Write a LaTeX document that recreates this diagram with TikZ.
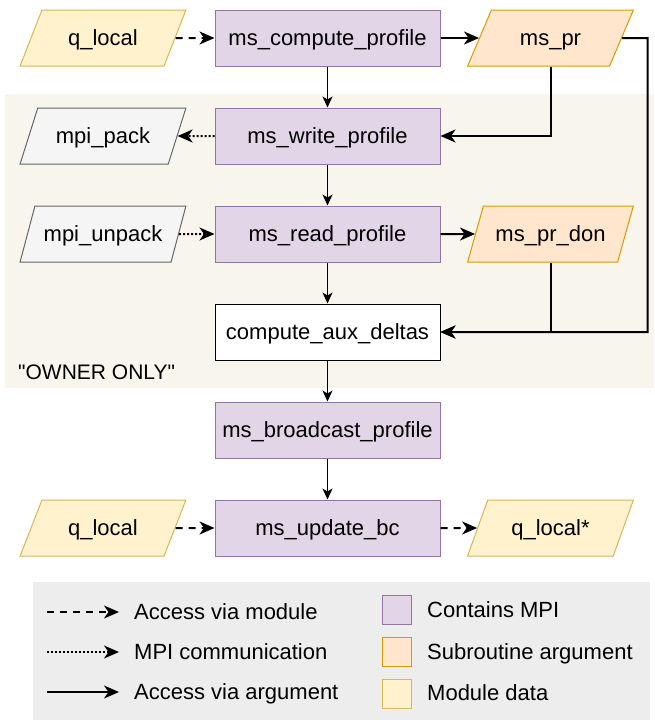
\documentclass[tikz,border=0pt]{standalone}
\usepackage{fontspec}
\setmainfont{Liberation Sans}[Ligatures=TeXOff]
\usetikzlibrary{shapes.geometric,arrows.meta}
\definecolor{mpifill}{HTML}{E1D5E7}
\definecolor{mpiline}{HTML}{9673A6}
\definecolor{argfill}{HTML}{FFE6CC}
\definecolor{argline}{HTML}{D79B00}
\definecolor{modfill}{HTML}{FFF2CC}
\definecolor{modline}{HTML}{D6B656}
\definecolor{packfill}{HTML}{F5F5F5}
\definecolor{packline}{HTML}{666666}
\definecolor{ownerbg}{HTML}{F8F5EC}
\definecolor{legendbg}{HTML}{EDEDED}
\tikzstyle{mpiblock} = [draw=mpiline, fill=mpifill, rectangle,
    minimum height=56pt, minimum width=225pt, line width=1pt]
\tikzstyle{plainblock} = [draw, fill=white, rectangle,
    minimum height=56pt, minimum width=225pt, line width=1pt]
\tikzstyle{data} = [trapezium, trapezium left angle=60, trapezium right angle=120,
    trapezium stretches=true, minimum height=56pt, minimum width=166pt, line width=1pt]
\tikzstyle{modvar} = [data, draw=modline, fill=modfill]
\tikzstyle{argvar} = [data, draw=argline, fill=argfill]
\tikzstyle{packvar} = [data, draw=packline, fill=packfill]
\tikzstyle{swatch} = [rectangle, minimum size=29pt, line width=1pt]
\tikzstyle{legtext} = [anchor=west, inner sep=0pt]
\tikzstyle{flow} = [->, line width=1.1pt, >={Stealth[length=11pt,width=10pt,inset=3pt]}]
\tikzstyle{viaarg} = [->, line width=2pt, >={Stealth[length=15pt,width=13pt,inset=4.5pt]}]
\tikzstyle{viamodule} = [viaarg, dash pattern=on 7pt off 6pt]
\tikzstyle{viampi} = [viaarg, dash pattern=on 2pt off 2pt]

\begin{document}
\begin{tikzpicture}[x=1pt, y=1pt, font=\fontsize{22}{26}\selectfont,
    every node/.append style={text height=16pt, text depth=1pt}]
        \useasboundingbox (0,0) rectangle (654,-720);
        % shaded owner region and legend panel
        \fill [ownerbg] (5,-94) rectangle (654,-388);
        \fill [legendbg] (33,-582) rectangle (650,-720);
        \node [legtext, font=\fontsize{21}{25}\selectfont] (owner) at (18,-372) {"OWNER ONLY"};

        % main column
        \node [mpiblock] (compute) at (327.5,-38) {ms\_compute\_profile};
        \node [mpiblock, below of=compute, node distance=98pt] (write) {ms\_write\_profile};
        \node [mpiblock, below of=write, node distance=98pt] (read) {ms\_read\_profile};
        \node [plainblock, below of=read, node distance=98pt] (aux) {compute\_aux\_deltas};
        \node [mpiblock, below of=aux, node distance=98pt] (bcast) {ms\_broadcast\_profile};
        \node [mpiblock, below of=bcast, node distance=98pt] (update) {ms\_update\_bc};

        % data on both sides
        \node [modvar, left of=compute, node distance=224.5pt] (qlocal) {q\_local};
        \node [argvar, right of=compute, node distance=223pt] (mspr) {ms\_pr};
        \node [packvar, left of=write, node distance=224.5pt] (pack) {mpi\_pack};
        \node [packvar, left of=read, node distance=224.5pt] (unpack) {mpi\_unpack};
        \node [argvar, right of=read, node distance=223pt] (prdon) {ms\_pr\_don};
        \node [modvar, left of=update, node distance=224.5pt] (qin) {q\_local};
        \node [modvar, right of=update, node distance=223pt] (qout) {q\_local*};
        \coordinate [right of=mspr, node distance=97pt] (rim);

        % connectors
        \draw [viamodule] (qlocal) -- (compute);
        \draw [viaarg] (compute) -- (mspr);
        \draw [flow] (compute) -- (write);
        \draw [viaarg] (mspr.south) |- (write.east);
        \draw [viampi] (write) -- (pack);
        \draw [flow] (write) -- (read);
        \draw [viampi] (unpack) -- (read);
        \draw [viaarg] (read) -- (prdon);
        \draw [flow] (read) -- (aux);
        \draw [viaarg] (prdon.south) |- (aux.east);
        \draw [viaarg] (mspr.east) -- (rim) |- (aux.east);
        \draw [flow] (aux) -- (bcast);
        \draw [flow] (bcast) -- (update);
        \draw [viamodule] (qin) -- (update);
        \draw [viamodule] (update) -- (qout);

        % legend
        \coordinate (lmoda) at (47,-612);
        \coordinate (lmodb) at (119,-612);
        \coordinate (lmpia) at (47,-652);
        \coordinate (lmpib) at (119,-652);
        \coordinate (larga) at (47,-692);
        \coordinate (largb) at (119,-692);
        \draw [viamodule] (lmoda) -- (lmodb);
        \draw [viampi] (lmpia) -- (lmpib);
        \draw [viaarg] (larga) -- (largb);
        \node [legtext] (lmod) at (134,-612) {Access via module};
        \node [legtext] (lmpi) at (134,-652) {MPI communication};
        \node [legtext] (larg) at (134,-692) {Access via argument};
        \node [swatch, draw=mpiline, fill=mpifill] (smpi) at (396.5,-610) {};
        \node [swatch, draw=argline, fill=argfill] (sarg) at (396.5,-651.5) {};
        \node [swatch, draw=modline, fill=modfill] (smod) at (396.5,-693.5) {};
        \node [legtext] (tmpi) at (427,-610) {Contains MPI};
        \node [legtext] (targ) at (427,-652) {Subroutine argument};
        \node [legtext] (tmod) at (427,-693) {Module data};
    \end{tikzpicture}
\end{document}
